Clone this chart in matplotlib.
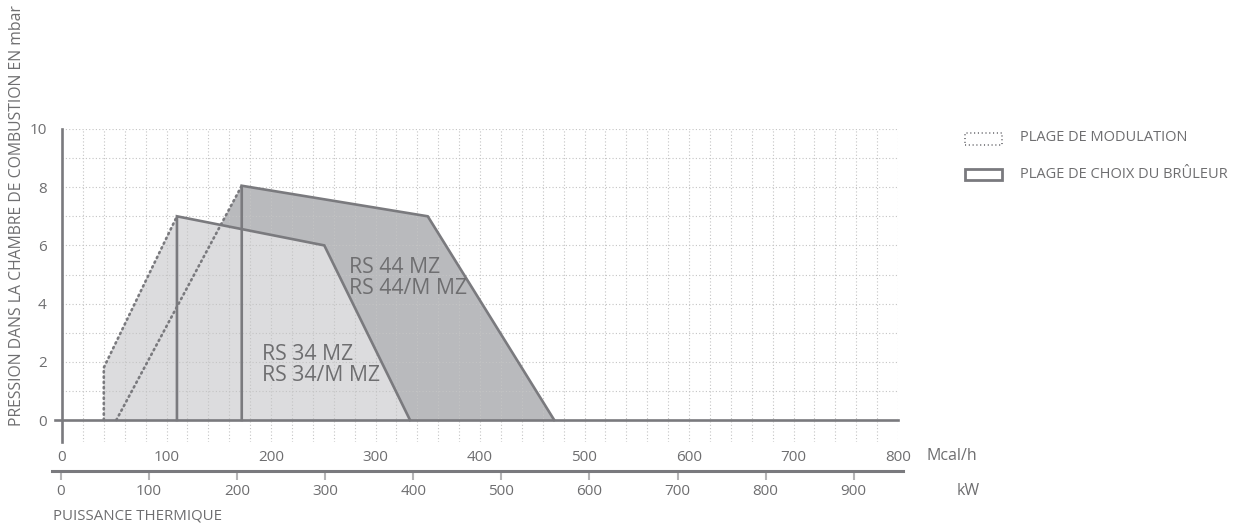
import matplotlib
matplotlib.use("Agg")
import matplotlib.pyplot as plt
from matplotlib.patches import Polygon, Rectangle
from matplotlib.ticker import MultipleLocator

plt.rcParams['font.family'] = ['Open Sans', 'DejaVu Sans']

# data
mcal_ticks = [0, 100, 200, 300, 400, 500, 600, 700, 800]
kw_ticks = [0, 100, 200, 300, 400, 500, 600, 700, 800, 900]
y_ticks = [0, 2, 4, 6, 8, 10]

# RS 34 MZ : modulation (dotted) and burner choice (solid)
rs34_mod_x = [40, 40, 110]
rs34_mod_y = [0, 1.8, 7.0]
rs34_rng_x = [110, 110, 251, 333]
rs34_rng_y = [0, 7.0, 6.0, 0]
# RS 44 MZ
rs44_mod_x = [52, 172]
rs44_mod_y = [0, 8.05]
rs44_rng_x = [172, 172, 350, 471]
rs44_rng_y = [0, 8.05, 7.0, 0]

line_c = '#7a7a7e'
text_c = '#6e6e70'
light = '#dcdcde'
dark = '#b9babd'
grid_c = '#c4c4c4'

W, H = 1240, 524
fig = plt.figure(figsize=(W / 100, H / 100), dpi=100)
ax = fig.add_axes([62 / W, 1 - 442 / H, (898 - 62) / W, (442 - 129) / H])
ax.set_xlim(0, 800)
ax.set_ylim(-0.756, 10)

# fills: dark below, light on top
pts44 = list(zip(rs44_mod_x, rs44_mod_y)) + list(zip(rs44_rng_x[1:], rs44_rng_y[1:]))
pts34 = list(zip(rs34_mod_x, rs34_mod_y)) + list(zip(rs34_rng_x[1:], rs34_rng_y[1:]))
ax.add_patch(Polygon(pts44, closed=True, facecolor=dark, edgecolor='none', zorder=1))
ax.add_patch(Polygon(pts34, closed=True, facecolor=light, edgecolor='none', zorder=1.1))

dots = (0, (0.5, 1.5))
for mx, my, rx, ry in [(rs34_mod_x, rs34_mod_y, rs34_rng_x, rs34_rng_y),
                       (rs44_mod_x, rs44_mod_y, rs44_rng_x, rs44_rng_y)]:
    ax.plot(mx, my, color=line_c, lw=1.9, linestyle=dots, dash_capstyle='round', zorder=3)
    ax.plot(rx, ry, color=line_c, lw=1.9, solid_joinstyle='miter', zorder=3)

# zero line
ax.plot([-6.7, 800], [0, 0], color=line_c, lw=1.9, clip_on=False, zorder=4)

# grid
ax.xaxis.set_minor_locator(MultipleLocator(20))
ax.yaxis.set_minor_locator(MultipleLocator(1))
ax.set_xticks(mcal_ticks)
ax.set_yticks(y_ticks)
ax.grid(which='both', color=grid_c, lw=0.8, linestyle=(0, (1, 2)), zorder=2)
ax.set_axisbelow(False)
ax.tick_params(which='both', length=0)
ax.tick_params(axis='x', pad=6, labelsize=11, labelcolor=text_c)
ax.tick_params(axis='y', pad=11, labelsize=11, labelcolor=text_c)
for s in ['top', 'right', 'bottom']:
    ax.spines[s].set_visible(False)
ax.spines['left'].set_color(line_c)
ax.spines['left'].set_linewidth(1.9)
ax.spines['left'].set_zorder(4)

# model labels
ax.text(275, 5.6, 'RS 44 MZ\nRS 44/M MZ', fontsize=15.3, color=text_c,
        va='top', ha='left', linespacing=1.0, zorder=5)
ax.text(191, 2.6, 'RS 34 MZ\nRS 34/M MZ', fontsize=15.3, color=text_c,
        va='top', ha='left', linespacing=1.0, zorder=5)

# kW axis
ax2 = fig.add_axes([52 / W, 1 - 471 / H, (903 - 52) / W, 0.0001])
px_per_kw = 0.8808
ax2.set_xlim((52 - 61) / px_per_kw, (903 - 61) / px_per_kw)
ax2.set_yticks([])
ax2.set_xticks(kw_ticks)
for s in ['top', 'right', 'left']:
    ax2.spines[s].set_visible(False)
ax2.spines['bottom'].set_color(line_c)
ax2.spines['bottom'].set_linewidth(2.2)
ax2.tick_params(axis='x', length=6.5, width=1.5, color='#b4b4b6', pad=3,
                labelsize=11, labelcolor=text_c)
ax2.patch.set_visible(False)

# axis titles
fig.text(926 / W, 1 - 456 / H, 'Mcal/h', fontsize=11.5, color=text_c, va='center', ha='left')
fig.text(980 / W, 1 - 491 / H, 'kW', fontsize=11.5, color=text_c, va='center', ha='right')
fig.text(53 / W, 1 - 516 / H, 'PUISSANCE THERMIQUE', fontsize=10.8, color=text_c, va='center', ha='left')
fig.text(17 / W, 1 - 426 / H, 'PRESSION DANS LA CHAMBRE DE COMBUSTION EN mbar', fontsize=11.3,
         color=text_c, rotation=90, va='bottom', ha='center')

# legend
fig.add_artist(Rectangle((965 / W, 1 - 145 / H), 37 / W, 12 / H, transform=fig.transFigure,
                         fill=False, edgecolor=line_c, lw=1.3, linestyle=(0, (0.6, 1.5))))
fig.add_artist(Rectangle((965 / W, 1 - 180 / H), 37 / W, 11 / H, transform=fig.transFigure,
                         fill=False, edgecolor=line_c, lw=2.0))
fig.text(1020 / W, 1 - 138 / H, 'PLAGE DE MODULATION', fontsize=10.5, color=text_c, va='center', ha='left')
fig.text(1020 / W, 1 - 175 / H, 'PLAGE DE CHOIX DU BRÛLEUR', fontsize=10.5, color=text_c, va='center', ha='left')

fig.savefig('out.png', dpi=100)
